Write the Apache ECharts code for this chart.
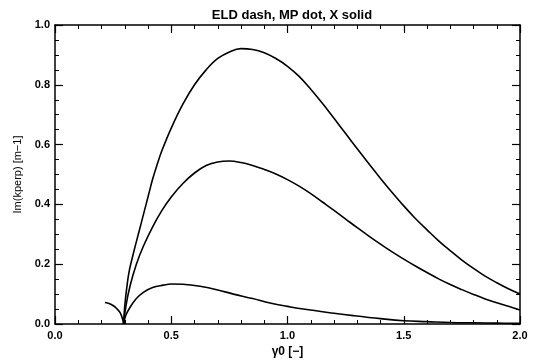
<!DOCTYPE html>
<html lang="en">
<head>
  <meta charset="UTF-8">
  <title>ELD dash, MP dot, X solid</title>
  <style>
    * { padding: 0; margin: 0; box-sizing: border-box; }
    html, body { background: #fff; }
    #chart { width: 533px; height: 363px; }
  </style>
</head>
<body>
  <div id="chart"></div>

  <script src="https://cdn.jsdelivr.net/npm/echarts@6/dist/echarts.min.js"></script>
  <script>
    // values
    const upperX = [0.295, 0.3, 0.31, 0.32, 0.34, 0.36, 0.38, 0.4, 0.42, 0.44, 0.46, 0.5, 0.55, 0.6, 0.65, 0.7, 0.75, 0.8, 0.85, 0.9, 0.95, 1.0, 1.05, 1.1, 1.15, 1.2, 1.25, 1.3, 1.35, 1.4, 1.45, 1.5, 1.55, 1.6, 1.65, 1.7, 1.75, 1.8, 1.85, 1.9, 1.95, 2.0];
    const upperY = [0, 0.06, 0.13, 0.18, 0.245, 0.305, 0.365, 0.425, 0.485, 0.535, 0.58, 0.655, 0.735, 0.8, 0.85, 0.888, 0.91, 0.921, 0.918, 0.907, 0.888, 0.862, 0.828, 0.785, 0.738, 0.688, 0.637, 0.586, 0.536, 0.487, 0.44, 0.395, 0.353, 0.315, 0.278, 0.245, 0.214, 0.186, 0.16, 0.138, 0.118, 0.1];

    const middleX = [0.295, 0.305, 0.323, 0.35, 0.38, 0.42, 0.46, 0.5, 0.55, 0.6, 0.65, 0.7, 0.75, 0.8, 0.85, 0.9, 0.95, 1.0, 1.05, 1.1, 1.15, 1.2, 1.25, 1.3, 1.35, 1.4, 1.45, 1.5, 1.55, 1.6, 1.65, 1.7, 1.75, 1.8, 1.85, 1.9, 1.95, 2.0];
    const middleY = [0, 0.06, 0.128, 0.2, 0.26, 0.325, 0.38, 0.425, 0.47, 0.505, 0.53, 0.542, 0.545, 0.54, 0.53, 0.517, 0.502, 0.483, 0.461, 0.436, 0.408, 0.38, 0.351, 0.322, 0.294, 0.267, 0.241, 0.217, 0.194, 0.172, 0.151, 0.132, 0.115, 0.099, 0.084, 0.071, 0.059, 0.047];

    const lowerLeftX = [0.215, 0.235, 0.251, 0.265, 0.28, 0.29, 0.295];
    const lowerLeftY = [0.072, 0.068, 0.061, 0.052, 0.038, 0.018, 0];

    const lowerRightX = [0.295, 0.305, 0.323, 0.35, 0.38, 0.42, 0.466, 0.5, 0.55, 0.624, 0.7, 0.767, 0.85, 0.925, 1.0, 1.068, 1.2, 1.283, 1.4, 1.5, 1.6, 1.7, 1.8, 1.9, 2.0];
    const lowerRightY = [0, 0.03, 0.056, 0.085, 0.106, 0.122, 0.13, 0.134, 0.133, 0.126, 0.114, 0.1, 0.085, 0.07, 0.059, 0.05, 0.036, 0.028, 0.018, 0.011, 0.008, 0.005, 0.004, 0.003, 0.002];

    const xTicks = [0, 0.5, 1.0, 1.5, 2.0];
    const yTicks = [0, 0.2, 0.4, 0.6, 0.8, 1.0];

    const font = '"Liberation Sans", Arial, sans-serif';
    const pairs = (xs, ys) => xs.map((x, i) => [x, ys[i]]);

    function curve(xs, ys) {
      return {
        type: 'line',
        data: pairs(xs, ys),
        showSymbol: false,
        smooth: 0.4,
        lineStyle: { color: '#000', width: 1.6 },
        silent: true,
        animation: false
      };
    }

    function xAxisCfg(pos, labels) {
      return {
        type: 'value',
        position: pos,
        min: xTicks[0],
        max: xTicks[xTicks.length - 1],
        interval: xTicks[1] - xTicks[0],
        name: labels ? 'γ0 [−]' : '',
        nameLocation: 'middle',
        nameGap: 22,
        nameTextStyle: { color: '#000', fontFamily: font, fontWeight: 'bold', fontSize: 12 },
        axisLine: { show: true, onZero: false, lineStyle: { color: '#000', width: 1.5 } },
        axisTick: { show: true, inside: true, length: 8, lineStyle: { color: '#000', width: 1.2 } },
        minorTick: { show: true, splitNumber: 5, length: 4, lineStyle: { color: '#000', width: 1 } },
        splitLine: { show: false },
        axisLabel: {
          show: labels,
          margin: 6,
          color: '#000',
          fontFamily: font,
          fontWeight: 'bold',
          fontSize: 11,
          formatter: v => v.toFixed(1)
        }
      };
    }

    function yAxisCfg(pos, labels) {
      return {
        type: 'value',
        position: pos,
        min: yTicks[0],
        max: yTicks[yTicks.length - 1],
        interval: yTicks[1] - yTicks[0],
        name: labels ? 'Im(kperp) [m−1]' : '',
        nameLocation: 'middle',
        nameGap: 32,
        nameTextStyle: { color: '#000', fontFamily: font, fontSize: 11 },
        axisLine: { show: true, onZero: false, lineStyle: { color: '#000', width: 1.5 } },
        axisTick: { show: true, inside: true, length: 8, lineStyle: { color: '#000', width: 1.2 } },
        minorTick: { show: true, splitNumber: 4, length: 4, lineStyle: { color: '#000', width: 1 } },
        splitLine: { show: false },
        axisLabel: {
          show: labels,
          margin: 5,
          color: '#000',
          fontFamily: font,
          fontWeight: 'bold',
          fontSize: 11,
          formatter: v => v.toFixed(1)
        }
      };
    }

    const chart = echarts.init(document.getElementById('chart'));
    chart.setOption({
      animation: false,
      backgroundColor: '#fff',
      title: {
        text: 'ELD dash, MP dot, X solid',
        left: 287,
        textAlign: 'center',
        top: 4,
        textStyle: { color: '#000', fontFamily: font, fontWeight: 'bold', fontSize: 13 }
      },
      grid: { left: 55, right: 13, top: 25, bottom: 38 },
      xAxis: [xAxisCfg('bottom', true), xAxisCfg('top', false)],
      yAxis: [yAxisCfg('left', true), yAxisCfg('right', false)],
      series: [
        curve(upperX, upperY),
        curve(middleX, middleY),
        curve(lowerLeftX, lowerLeftY),
        curve(lowerRightX, lowerRightY)
      ]
    });
  </script>
</body>
</html>
